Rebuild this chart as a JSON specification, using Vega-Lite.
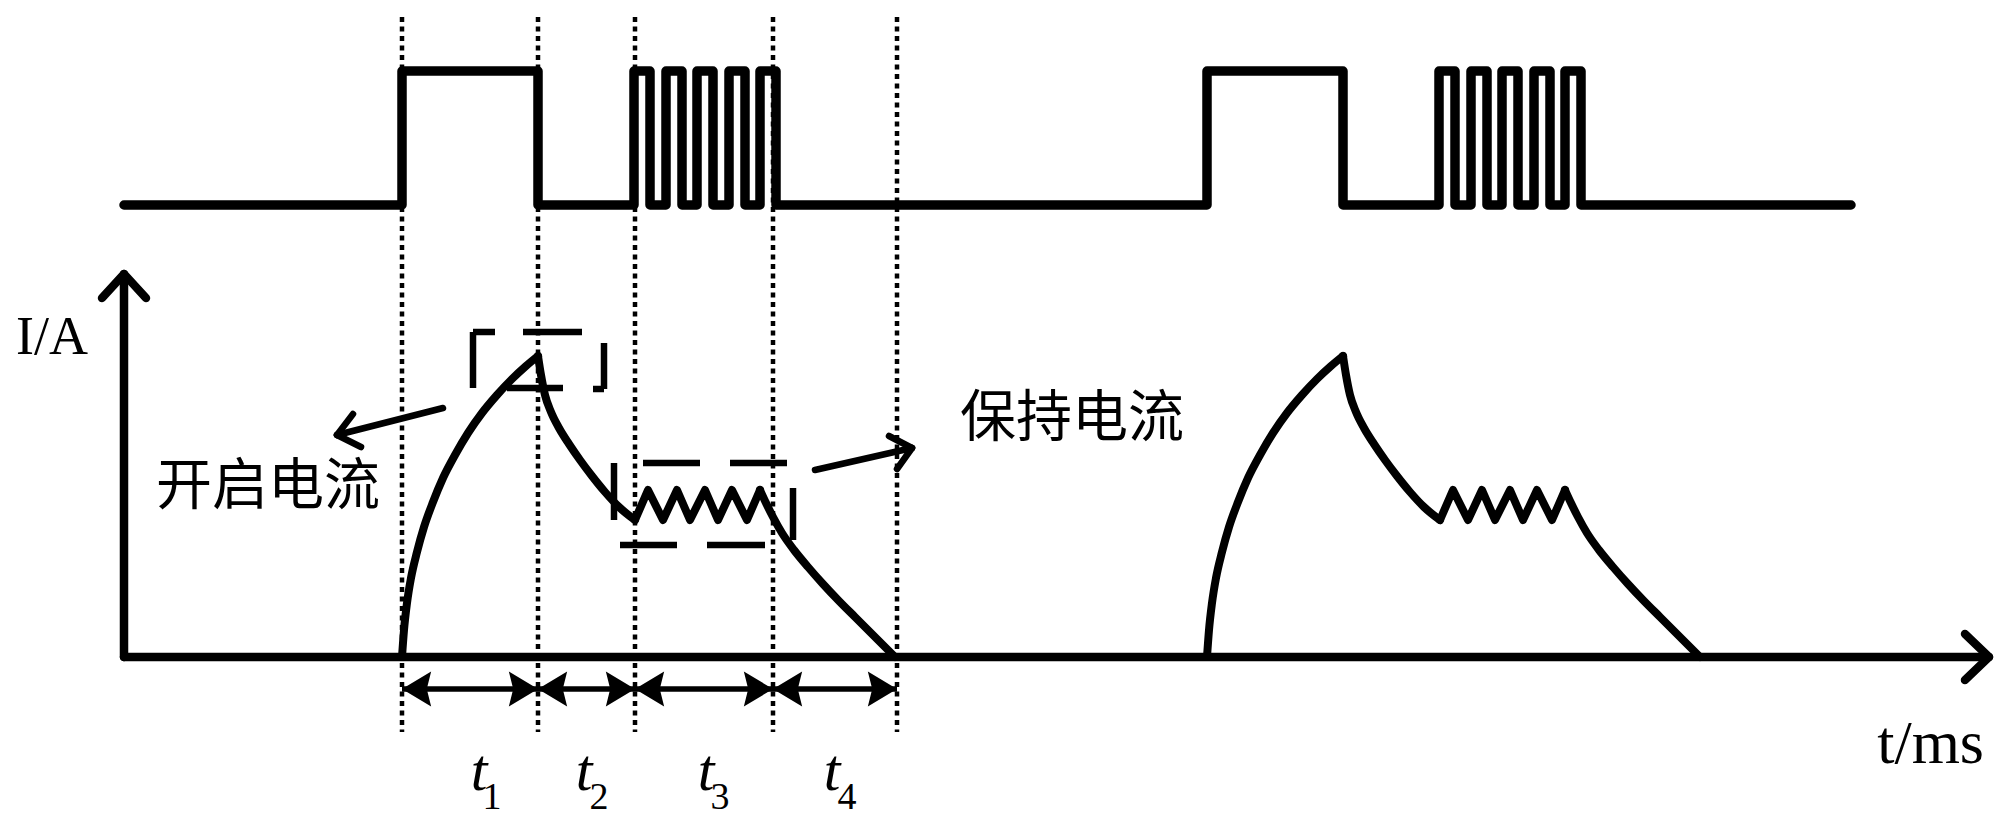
{
  "$schema": "https://vega.github.io/schema/vega-lite/v6.json",
  "width": 2000,
  "height": 816,
  "padding": 0,
  "autosize": {"type": "none"},
  "background": "white",
  "config": {"view": {"stroke": null}},
  "datasets": {
    "dotted": [
      {"x": 402, "y": 17, "y2": 732},
      {"x": 538, "y": 17, "y2": 732},
      {"x": 635, "y": 17, "y2": 732},
      {"x": 773, "y": 17, "y2": 732},
      {"x": 897, "y": 17, "y2": 732}
    ],
    "signal": [
      {"i": 1, "x": 124, "y": 205}, {"i": 2, "x": 402, "y": 205}, {"i": 3, "x": 402, "y": 71}, {"i": 4, "x": 538, "y": 71},
      {"i": 5, "x": 538, "y": 205}, {"i": 6, "x": 634, "y": 205}, {"i": 7, "x": 634, "y": 71}, {"i": 8, "x": 650, "y": 71},
      {"i": 9, "x": 650, "y": 205}, {"i": 10, "x": 666, "y": 205}, {"i": 11, "x": 666, "y": 71}, {"i": 12, "x": 682, "y": 71},
      {"i": 13, "x": 682, "y": 205}, {"i": 14, "x": 697, "y": 205}, {"i": 15, "x": 697, "y": 71}, {"i": 16, "x": 713, "y": 71},
      {"i": 17, "x": 713, "y": 205}, {"i": 18, "x": 729, "y": 205}, {"i": 19, "x": 729, "y": 71}, {"i": 20, "x": 745, "y": 71},
      {"i": 21, "x": 745, "y": 205}, {"i": 22, "x": 760, "y": 205}, {"i": 23, "x": 760, "y": 71}, {"i": 24, "x": 776, "y": 71},
      {"i": 25, "x": 776, "y": 205}, {"i": 26, "x": 1207, "y": 205}, {"i": 27, "x": 1207, "y": 71}, {"i": 28, "x": 1343, "y": 71},
      {"i": 29, "x": 1343, "y": 205}, {"i": 30, "x": 1439, "y": 205}, {"i": 31, "x": 1439, "y": 71}, {"i": 32, "x": 1455, "y": 71},
      {"i": 33, "x": 1455, "y": 205}, {"i": 34, "x": 1471, "y": 205}, {"i": 35, "x": 1471, "y": 71}, {"i": 36, "x": 1487, "y": 71},
      {"i": 37, "x": 1487, "y": 205}, {"i": 38, "x": 1502, "y": 205}, {"i": 39, "x": 1502, "y": 71}, {"i": 40, "x": 1518, "y": 71},
      {"i": 41, "x": 1518, "y": 205}, {"i": 42, "x": 1534, "y": 205}, {"i": 43, "x": 1534, "y": 71}, {"i": 44, "x": 1550, "y": 71},
      {"i": 45, "x": 1550, "y": 205}, {"i": 46, "x": 1565, "y": 205}, {"i": 47, "x": 1565, "y": 71}, {"i": 48, "x": 1581, "y": 71},
      {"i": 49, "x": 1581, "y": 205}, {"i": 50, "x": 1851, "y": 205}
    ],
    "curves": [
      {"seg": "r1", "x": 402, "y": 657}, {"seg": "r1", "x": 404, "y": 630}, {"seg": "r1", "x": 407, "y": 603}, {"seg": "r1", "x": 411, "y": 578},
      {"seg": "r1", "x": 417, "y": 552}, {"seg": "r1", "x": 424, "y": 527}, {"seg": "r1", "x": 433, "y": 502}, {"seg": "r1", "x": 443, "y": 478},
      {"seg": "r1", "x": 455, "y": 455}, {"seg": "r1", "x": 468, "y": 433}, {"seg": "r1", "x": 482, "y": 413}, {"seg": "r1", "x": 497, "y": 395},
      {"seg": "r1", "x": 512, "y": 379}, {"seg": "r1", "x": 526, "y": 366}, {"seg": "r1", "x": 538, "y": 356},
      {"seg": "d1", "x": 538, "y": 356}, {"seg": "d1", "x": 541, "y": 375}, {"seg": "d1", "x": 545, "y": 395}, {"seg": "d1", "x": 551, "y": 412},
      {"seg": "d1", "x": 559, "y": 428}, {"seg": "d1", "x": 569, "y": 444}, {"seg": "d1", "x": 580, "y": 460}, {"seg": "d1", "x": 592, "y": 476},
      {"seg": "d1", "x": 605, "y": 492}, {"seg": "d1", "x": 619, "y": 507}, {"seg": "d1", "x": 635, "y": 520},
      {"seg": "f1", "x": 760, "y": 490}, {"seg": "f1", "x": 766, "y": 503}, {"seg": "f1", "x": 773, "y": 517}, {"seg": "f1", "x": 782, "y": 533},
      {"seg": "f1", "x": 794, "y": 550}, {"seg": "f1", "x": 808, "y": 567}, {"seg": "f1", "x": 823, "y": 584}, {"seg": "f1", "x": 839, "y": 601},
      {"seg": "f1", "x": 855, "y": 617}, {"seg": "f1", "x": 870, "y": 632}, {"seg": "f1", "x": 883, "y": 645}, {"seg": "f1", "x": 895, "y": 657},
      {"seg": "r2", "x": 1207, "y": 657}, {"seg": "r2", "x": 1209, "y": 630}, {"seg": "r2", "x": 1212, "y": 603}, {"seg": "r2", "x": 1216, "y": 578},
      {"seg": "r2", "x": 1222, "y": 552}, {"seg": "r2", "x": 1229, "y": 527}, {"seg": "r2", "x": 1238, "y": 502}, {"seg": "r2", "x": 1248, "y": 478},
      {"seg": "r2", "x": 1260, "y": 455}, {"seg": "r2", "x": 1273, "y": 433}, {"seg": "r2", "x": 1287, "y": 413}, {"seg": "r2", "x": 1302, "y": 395},
      {"seg": "r2", "x": 1317, "y": 379}, {"seg": "r2", "x": 1331, "y": 366}, {"seg": "r2", "x": 1343, "y": 356},
      {"seg": "d2", "x": 1343, "y": 356}, {"seg": "d2", "x": 1346, "y": 375}, {"seg": "d2", "x": 1350, "y": 395}, {"seg": "d2", "x": 1356, "y": 412},
      {"seg": "d2", "x": 1364, "y": 428}, {"seg": "d2", "x": 1374, "y": 444}, {"seg": "d2", "x": 1385, "y": 460}, {"seg": "d2", "x": 1397, "y": 476},
      {"seg": "d2", "x": 1410, "y": 492}, {"seg": "d2", "x": 1424, "y": 507}, {"seg": "d2", "x": 1440, "y": 520},
      {"seg": "f2", "x": 1565, "y": 490}, {"seg": "f2", "x": 1571, "y": 503}, {"seg": "f2", "x": 1578, "y": 517}, {"seg": "f2", "x": 1587, "y": 533},
      {"seg": "f2", "x": 1599, "y": 550}, {"seg": "f2", "x": 1613, "y": 567}, {"seg": "f2", "x": 1628, "y": 584}, {"seg": "f2", "x": 1644, "y": 601},
      {"seg": "f2", "x": 1660, "y": 617}, {"seg": "f2", "x": 1675, "y": 632}, {"seg": "f2", "x": 1688, "y": 645}, {"seg": "f2", "x": 1700, "y": 657}
    ],
    "zigzag": [
      {"seg": "z1", "x": 635, "y": 520}, {"seg": "z1", "x": 648, "y": 490}, {"seg": "z1", "x": 663, "y": 520}, {"seg": "z1", "x": 677, "y": 490},
      {"seg": "z1", "x": 690, "y": 520}, {"seg": "z1", "x": 705, "y": 490}, {"seg": "z1", "x": 718, "y": 520}, {"seg": "z1", "x": 732, "y": 490},
      {"seg": "z1", "x": 747, "y": 520}, {"seg": "z1", "x": 760, "y": 490},
      {"seg": "z2", "x": 1440, "y": 520}, {"seg": "z2", "x": 1453, "y": 490}, {"seg": "z2", "x": 1468, "y": 520}, {"seg": "z2", "x": 1482, "y": 490},
      {"seg": "z2", "x": 1495, "y": 520}, {"seg": "z2", "x": 1510, "y": 490}, {"seg": "z2", "x": 1523, "y": 520}, {"seg": "z2", "x": 1537, "y": 490},
      {"seg": "z2", "x": 1552, "y": 520}, {"seg": "z2", "x": 1565, "y": 490}
    ],
    "axes": [
      {"x": 124, "y": 657, "x2": 124, "y2": 276},
      {"x": 124, "y": 274, "x2": 102, "y2": 298},
      {"x": 124, "y": 274, "x2": 146, "y2": 298},
      {"x": 124, "y": 657, "x2": 1988, "y2": 657},
      {"x": 1989, "y": 657, "x2": 1965, "y2": 634},
      {"x": 1989, "y": 657, "x2": 1965, "y2": 680}
    ],
    "boxes": [
      {"x": 473, "y": 332, "x2": 473, "y2": 388},
      {"x": 473, "y": 332, "x2": 495, "y2": 332},
      {"x": 523, "y": 332, "x2": 582, "y2": 332},
      {"x": 604, "y": 343, "x2": 604, "y2": 389},
      {"x": 593, "y": 389, "x2": 604, "y2": 389},
      {"x": 507, "y": 388, "x2": 563, "y2": 388},
      {"x": 614, "y": 463, "x2": 614, "y2": 520},
      {"x": 643, "y": 463, "x2": 700, "y2": 463},
      {"x": 730, "y": 463, "x2": 787, "y2": 463},
      {"x": 620, "y": 545, "x2": 677, "y2": 545},
      {"x": 707, "y": 545, "x2": 765, "y2": 545},
      {"x": 793, "y": 488, "x2": 793, "y2": 540}
    ],
    "annot": [
      {"x": 443, "y": 408, "x2": 337, "y2": 435},
      {"x": 337, "y": 435, "x2": 353, "y2": 414},
      {"x": 337, "y": 435, "x2": 361, "y2": 447},
      {"x": 815, "y": 470, "x2": 912, "y2": 448},
      {"x": 912, "y": 448, "x2": 889, "y2": 436},
      {"x": 912, "y": 448, "x2": 897, "y2": 469}
    ],
    "dim": [
      {"x": 402, "y": 689, "x2": 897, "y2": 689}
    ],
    "headsR": [
      {"x": 538, "y": 689}, {"x": 635, "y": 689}, {"x": 773, "y": 689}, {"x": 897, "y": 689}
    ],
    "headsL": [
      {"x": 402, "y": 689}, {"x": 538, "y": 689}, {"x": 635, "y": 689}, {"x": 773, "y": 689}
    ],
    "serifLabels": [
      {"x": 88, "y": 354, "label": "I/A"}
    ],
    "serifLabelsR": [
      {"x": 1984, "y": 763, "label": "t/ms"}
    ],
    "cjk": [
      {"x": 268, "y": 487, "label": "开启电流"},
      {"x": 1072, "y": 419, "label": "保持电流"}
    ],
    "tmain": [
      {"x": 479, "y": 790, "label": "t"},
      {"x": 584, "y": 790, "label": "t"},
      {"x": 706, "y": 790, "label": "t"},
      {"x": 832, "y": 790, "label": "t"}
    ],
    "tsub": [
      {"x": 492, "y": 809, "label": "1"},
      {"x": 599, "y": 809, "label": "2"},
      {"x": 720, "y": 809, "label": "3"},
      {"x": 847, "y": 809, "label": "4"}
    ]
  },
  "encoding": {
    "x": {"field": "x", "type": "quantitative", "axis": null, "scale": {"domain": [0, 2000], "nice": false, "zero": false}},
    "y": {"field": "y", "type": "quantitative", "axis": null, "scale": {"domain": [0, 816], "nice": false, "zero": false, "reverse": true}}
  },
  "layer": [
    {
      "data": {"name": "dotted"},
      "mark": {"type": "rule", "color": "black", "strokeWidth": 4.5, "strokeDash": [5, 4.5]},
      "encoding": {"y2": {"field": "y2"}}
    },
    {
      "data": {"name": "signal"},
      "mark": {"type": "line", "color": "black", "strokeWidth": 9.5, "strokeJoin": "round", "strokeCap": "round"},
      "encoding": {"order": {"field": "i", "type": "quantitative"}}
    },
    {
      "data": {"name": "curves"},
      "mark": {"type": "line", "color": "black", "strokeWidth": 8, "interpolate": "monotone", "strokeJoin": "round", "strokeCap": "round"},
      "encoding": {"detail": {"field": "seg", "type": "nominal"}}
    },
    {
      "data": {"name": "zigzag"},
      "mark": {"type": "line", "color": "black", "strokeWidth": 8, "strokeJoin": "round", "strokeCap": "round"},
      "encoding": {"detail": {"field": "seg", "type": "nominal"}}
    },
    {
      "data": {"name": "axes"},
      "mark": {"type": "rule", "color": "black", "strokeWidth": 8.5, "strokeCap": "round"},
      "encoding": {"x2": {"field": "x2"}, "y2": {"field": "y2"}}
    },
    {
      "data": {"name": "boxes"},
      "mark": {"type": "rule", "color": "black", "strokeWidth": 6.5},
      "encoding": {"x2": {"field": "x2"}, "y2": {"field": "y2"}}
    },
    {
      "data": {"name": "annot"},
      "mark": {"type": "rule", "color": "black", "strokeWidth": 6.5, "strokeCap": "round"},
      "encoding": {"x2": {"field": "x2"}, "y2": {"field": "y2"}}
    },
    {
      "data": {"name": "dim"},
      "mark": {"type": "rule", "color": "black", "strokeWidth": 5.5},
      "encoding": {"x2": {"field": "x2"}, "y2": {"field": "y2"}}
    },
    {
      "data": {"name": "headsR"},
      "mark": {"type": "point", "shape": "M0,0L-2,-1.2L-1.7,0L-2,1.2Z", "filled": true, "size": 850, "color": "black", "opacity": 1}
    },
    {
      "data": {"name": "headsL"},
      "mark": {"type": "point", "shape": "M0,0L2,-1.2L1.7,0L2,1.2Z", "filled": true, "size": 850, "color": "black", "opacity": 1}
    },
    {
      "data": {"name": "serifLabels"},
      "mark": {"type": "text", "font": "Liberation Serif", "fontSize": 54, "align": "right", "baseline": "alphabetic", "color": "black"},
      "encoding": {"text": {"field": "label"}}
    },
    {
      "data": {"name": "serifLabelsR"},
      "mark": {"type": "text", "font": "Liberation Serif", "fontSize": 62, "align": "right", "baseline": "alphabetic", "color": "black"},
      "encoding": {"text": {"field": "label"}}
    },
    {
      "data": {"name": "cjk"},
      "mark": {"type": "text", "font": "Noto Sans CJK SC", "fontSize": 56, "align": "center", "baseline": "middle", "color": "black"},
      "encoding": {"text": {"field": "label"}}
    },
    {
      "data": {"name": "tmain"},
      "mark": {"type": "text", "font": "Liberation Serif", "fontStyle": "italic", "fontSize": 60, "align": "center", "baseline": "alphabetic", "color": "black"},
      "encoding": {"text": {"field": "label"}}
    },
    {
      "data": {"name": "tsub"},
      "mark": {"type": "text", "font": "Liberation Serif", "fontSize": 38, "align": "center", "baseline": "alphabetic", "color": "black"},
      "encoding": {"text": {"field": "label"}}
    }
  ]
}
